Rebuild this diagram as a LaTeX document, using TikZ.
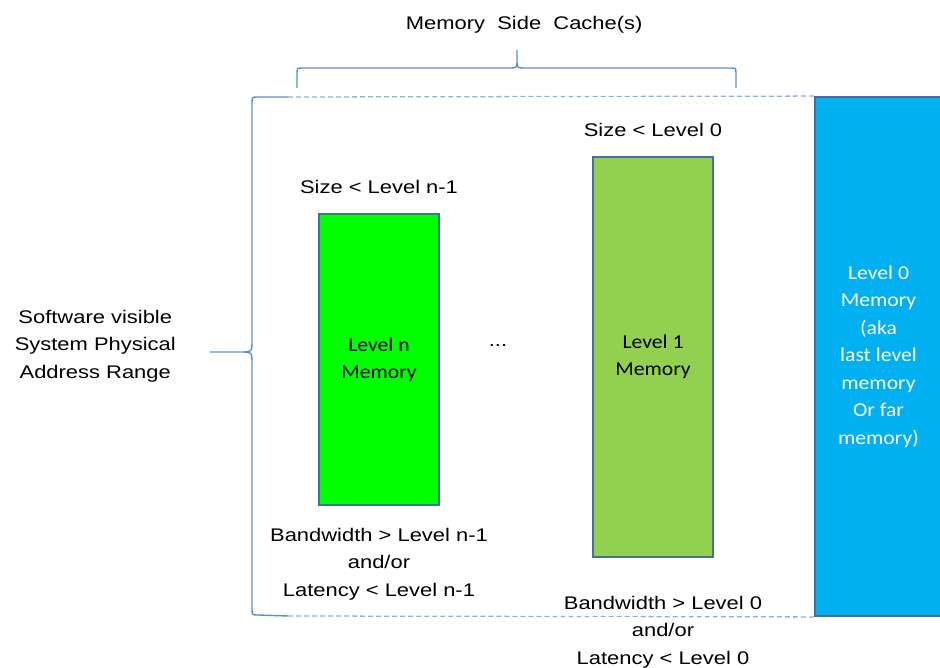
\documentclass[tikz,border=0pt]{standalone}
\usepackage{fontspec}
\setmainfont[FakeStretch=1.2]{Liberation Sans}
\newfontfamily\calibri[FakeStretch=1.1]{Carlito}
\usetikzlibrary{positioning}
\definecolor{bracebl}{HTML}{5B8FD0}
\definecolor{edgebl}{HTML}{41719C}
\definecolor{lvlgreen}{HTML}{00FF00}
\definecolor{lvlolive}{HTML}{92D050}
\definecolor{lvlblue}{HTML}{00B0F0}
\tikzset{
  mem/.style={draw=edgebl, line width=1.2pt, minimum width=3cm, align=center,
              inner sep=0pt, font=\calibri\fontsize{14}{19.5}\selectfont},
  lbl/.style={align=center, inner sep=0pt, font=\fontsize{13}{19.5}\selectfont},
  brc/.style={draw=bracebl, line width=1pt},
  rim/.style={draw=bracebl!70, line width=0.9pt, dash pattern=on 3.5pt off 2.2pt},
}

\begin{document}
\begin{tikzpicture}[x=0.025cm, y=-0.025cm]
  \useasboundingbox (0,0) rectangle (940,668);
  % memory levels
  \node[mem, fill=lvlgreen, minimum height=7.275cm] (lvn) at (379,359.5) {Level n\\Memory};
  \node[mem, fill=lvlolive, minimum height=10cm] (lv1) at (653,357) {Level 1\\Memory};
  \node[mem, fill=lvlblue, text=white, minimum width=3.175cm, minimum height=12.975cm]
    (lv0) at (878.5,356.5) {Level 0\\Memory\\(aka\\last level\\memory\\Or far\\memory)};
  \node[lbl] (dots) at (498,346) {...};
  % size / bandwidth notes
  \node[lbl, above=4.7mm of lvn] (szn) {Size < Level  n-1};
  \node[lbl, above=4.7mm of lv1] (sz1) {Size < Level  0};
  \node[lbl, below=5.5mm of lvn] (bwn) {Bandwidth  > Level  n-1\\and/or\\Latency  < Level  n-1};
  \node[lbl, below=9.5mm of lv1, xshift=2.5mm] (bw1) {Bandwidth  > Level  0\\and/or\\Latency  < Level  0};
  % braces
  \coordinate (ctip) at (517,50);
  \coordinate (ltip) at (210,352);
  \coordinate (ltop) at (288,97);
  \coordinate (lbot) at (288,616);
  \draw[brc] (297,88) -- (297,74) .. controls (297,68) .. (303,68) -- (509,68)
    .. controls (517,68) .. (517,60) -- (ctip) -- (517,60) .. controls (517,68) .. (525,68)
    -- (730,68) .. controls (736,68) .. (736,74) -- (736,88);
  \draw[brc] (ltop) -- (258,97) .. controls (252,97) .. (252,103) -- (252,340)
    .. controls (252,352) .. (240,352) -- (ltip) -- (240,352) .. controls (252,352) .. (252,364)
    -- (252,609) .. controls (252,615) .. (258,615) -- (lbot);
  \draw[rim] (ltop) -- (lv0.north west);
  \draw[rim] (lbot) -- (lv0.south west);
  \node[lbl, above=4.2mm of ctip, xshift=1.8mm] (msc) {Memory~ Side~ Cache(s)};
  \node[lbl, left=8.5mm of ltip, yshift=1.5mm] (swr) {Software visible\\System Physical\\Address Range};
\end{tikzpicture}
\end{document}
